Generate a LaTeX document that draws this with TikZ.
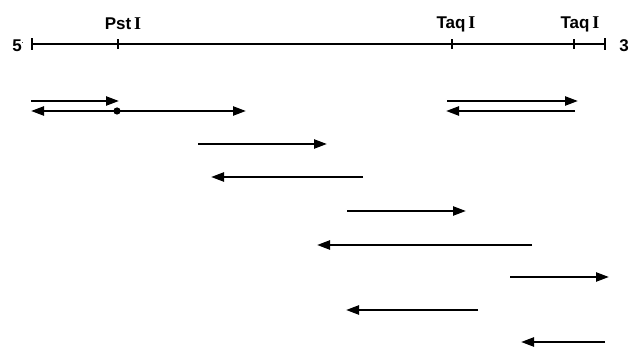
\documentclass[tikz,border=0pt]{standalone}
\usepackage{fontspec}
\setmainfont{Liberation Sans}
\newfontfamily\romfont{Liberation Serif}
\usetikzlibrary{arrows.meta}
\tikzset{
  mapline/.style={line width=2.6pt},
  tickmark/.style={line width=1.6pt},
  frag/.style={line width=2.3pt,-{Triangle[length=13pt,width=9pt]}},
  lbl/.style={font=\bfseries\fontsize{17}{19}\selectfont,inner sep=0pt},
}
\newcommand{\romI}{{\romfont\fontsize{18}{19}\selectfont I}}
\begin{document}
\begin{tikzpicture}[x=1pt,y=-1pt]
\useasboundingbox (0,0) rectangle (630,347);
% map
\coordinate (L) at (32,44);
\coordinate (R) at (605,44);
\coordinate (P) at (118,44);
\coordinate (T1) at (452,44);
\coordinate (T2) at (574,44);
\draw[mapline] (L) -- (R);
\foreach \c in {L,R}{\draw[tickmark] ([yshift=-6pt]\c) -- ([yshift=6pt]\c);}
\foreach \c in {P,T1,T2}{\draw[tickmark] ([yshift=-5pt]\c) -- ([yshift=5pt]\c);}
\node[lbl] (five) at (18,46) {5\raisebox{0.5em}{\fontsize{6}{6}\selectfont .}};
\node[lbl] (three) at (624,46) {3};
\node[lbl] (pst) at (123,24) {Pst\,\romI};
\node[lbl] (taq1) at (456,24) {Taq\,\romI};
\node[lbl] (taq2) at (580,24) {Taq\,\romI};
% fragments
\coordinate (a1) at (31,101); \coordinate (a2) at (119,101);
\coordinate (b1) at (117,111); \coordinate (b2) at (31,111); \coordinate (b3) at (246,111);
\coordinate (c1) at (447,101); \coordinate (c2) at (578,101);
\coordinate (d1) at (575,111); \coordinate (d2) at (446,111);
\coordinate (e1) at (198,144); \coordinate (e2) at (327,144);
\coordinate (f1) at (363,177); \coordinate (f2) at (211,177);
\coordinate (g1) at (347,211); \coordinate (g2) at (466,211);
\coordinate (h1) at (532,245); \coordinate (h2) at (317,245);
\coordinate (i1) at (510,277); \coordinate (i2) at (609,277);
\coordinate (j1) at (478,310); \coordinate (j2) at (346,310);
\coordinate (k1) at (605,342); \coordinate (k2) at (521,342);
\draw[frag] (a1) -- (a2);
\draw[frag] (b1) -- (b2);
\draw[frag] (b1) -- (b3);
\fill (b1) circle (3.6pt);
\draw[frag] (c1) -- (c2);
\draw[frag] (d1) -- (d2);
\draw[frag] (e1) -- (e2);
\draw[frag] (f1) -- (f2);
\draw[frag] (g1) -- (g2);
\draw[frag] (h1) -- (h2);
\draw[frag] (i1) -- (i2);
\draw[frag] (j1) -- (j2);
\draw[frag] (k1) -- (k2);
\end{tikzpicture}
\end{document}
